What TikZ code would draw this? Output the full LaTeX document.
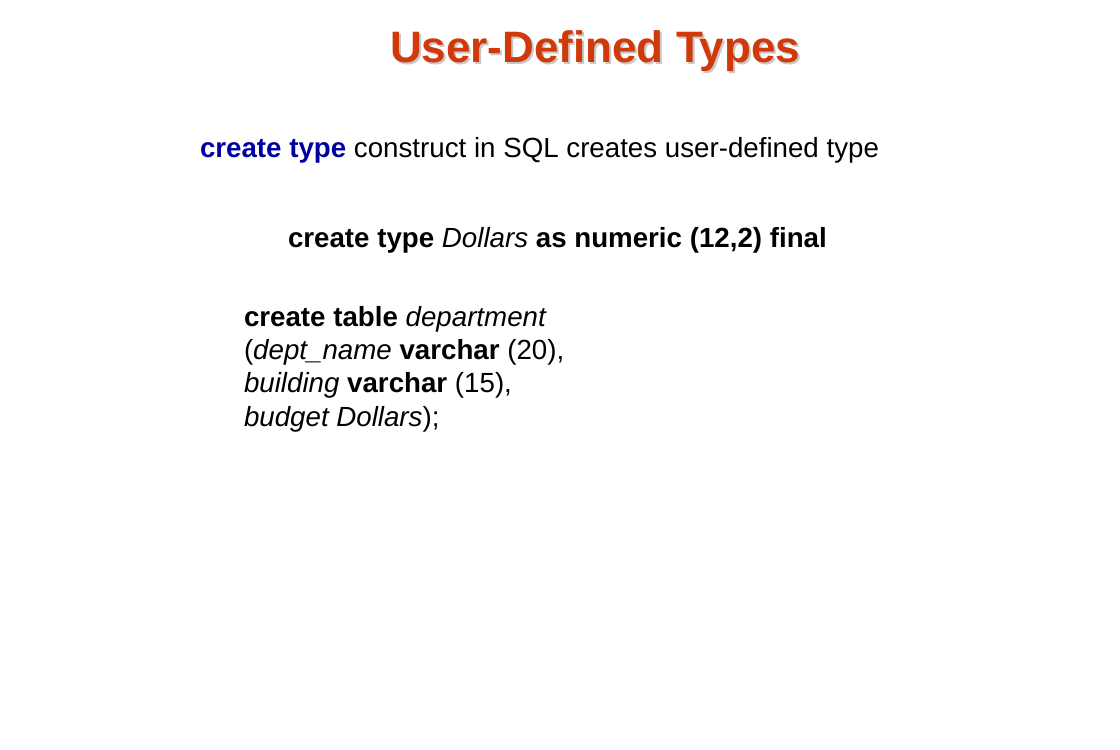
\documentclass[tikz,border=0pt]{standalone}
\usepackage{fontspec}
\setmainfont{Liberation Sans}
\definecolor{titlered}{RGB}{208,58,10}
\definecolor{kwblue}{RGB}{0,0,160}
\definecolor{shadowgray}{RGB}{200,200,200}
\begin{document}
\begin{tikzpicture}[x=1pt,y=-1pt,
  txt/.style={inner sep=0pt, outer sep=0pt, font=\fontsize{27.7}{33}\selectfont},
  ttl/.style={inner sep=0pt, outer sep=0pt, font=\fontsize{44}{50}\selectfont\bfseries}]
\useasboundingbox[fill=white] (0,0) rectangle (1120,750);
% title with soft shadow
\node[ttl, text=shadowgray, anchor=base] (titleshadow) at (597,64) {User-Defined Types};
\node[ttl, text=titlered, anchor=base] (title) at (595,62) {User-Defined Types};
% intro line
\node[txt, anchor=base west] (intro) at (200,157) {\textcolor{kwblue}{\textbf{create type}} construct in SQL creates user-defined type};
% type definition
\node[txt, anchor=base west] (typedef) at (288,247) {\textbf{create type} \textit{Dollars} \textbf{as numeric (12,2) final}};
% table definition
\node[txt, anchor=base west] (l1) at (244,326) {\textbf{create table} \textit{department}};
\node[txt, anchor=base west] (l2) at (244,359.3) {(\textit{dept\_name} \textbf{varchar} (20),};
\node[txt, anchor=base west] (l3) at (244,392.6) {\textit{building} \textbf{varchar} (15),};
\node[txt, anchor=base west] (l4) at (244,426) {\textit{budget Dollars});};
\end{tikzpicture}
\end{document}
